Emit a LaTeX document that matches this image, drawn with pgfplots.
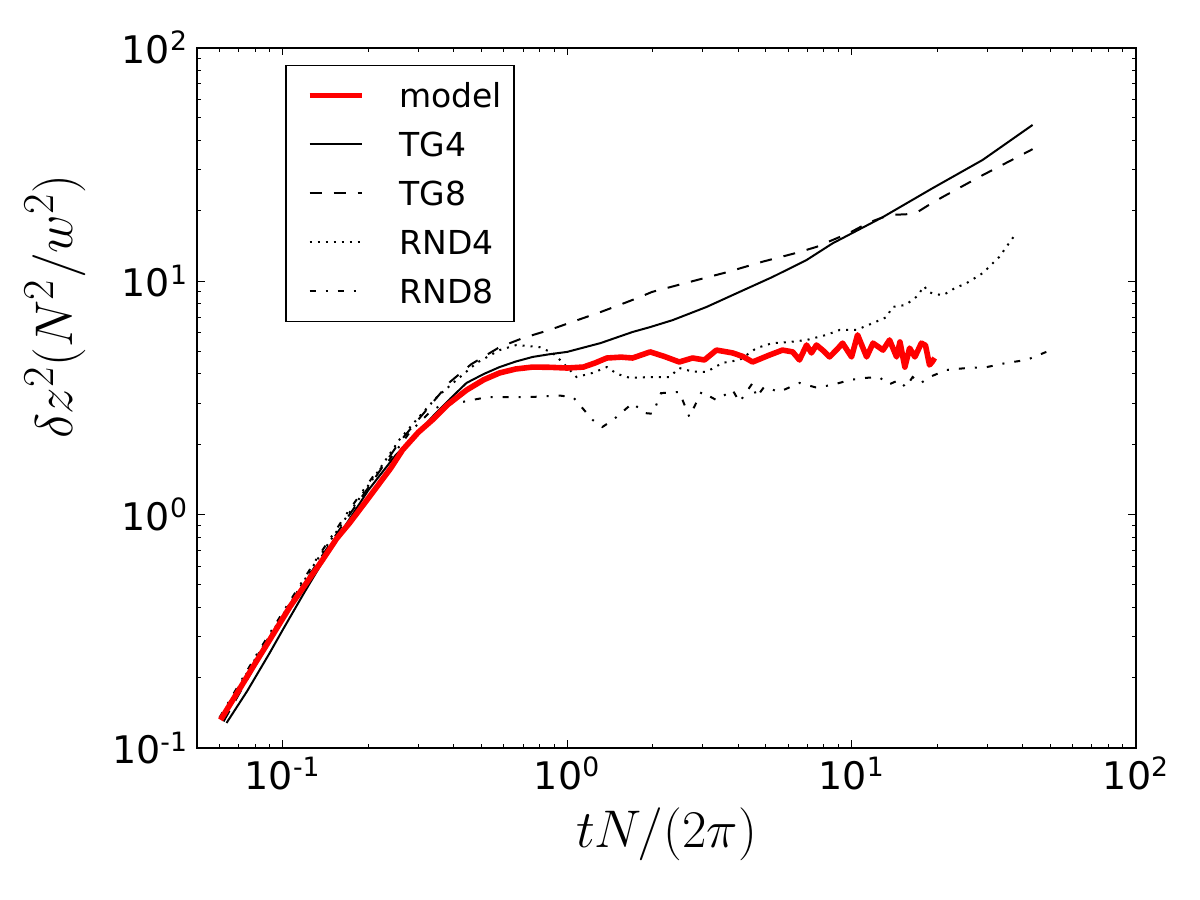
\documentclass[border=0pt]{standalone}
\usepackage[no-math]{fontspec}
\usepackage{pgfplots}
\pgfplotsset{compat=1.18}
\newfontfamily\dejavu{DejaVu Sans}
\newcommand{\labelfont}{\fontsize{24.88}{30}\selectfont}

% model curve, read once and drawn on top of the simulation curves
\pgfplotstableread{
x y
0.0605 0.132
0.07 0.176
0.08 0.23
0.09 0.29
0.106 0.402
0.12 0.50
0.138 0.638
0.155 0.79
0.172 0.92
0.19 1.08
0.214 1.31
0.24 1.58
0.264 1.89
0.3 2.25
0.336 2.54
0.38 2.95
0.443 3.41
0.51 3.78
0.579 4.04
0.66 4.20
0.757 4.28
0.87 4.27
1.0 4.24
1.14 4.28
1.25 4.45
1.38 4.68
1.55 4.72
1.70 4.68
1.96 4.97
2.2 4.75
2.48 4.50
2.76 4.68
3.04 4.59
3.35 5.06
3.82 4.92
4.15 4.75
4.49 4.50
5.15 4.82
5.72 5.06
6.21 4.97
6.56 4.59
6.95 5.32
7.23 4.92
7.53 5.32
8.0 5.0
8.37 4.73
8.9 5.1
9.30 5.42
10.0 4.73
10.5 5.88
11.3 4.73
11.9 5.42
12.9 5.06
13.6 5.59
14.4 4.73
14.8 5.48
15.4 4.28
16.0 5.16
16.7 4.73
17.6 5.42
18.2 5.3
18.8 4.37
19.2 4.5
19.6 4.68
}\modeldata

\pgfplotstableread{
x y
0.0635 0.128
0.075 0.175
0.09 0.255
0.1 0.32
0.12 0.47
0.15 0.74
0.2 1.27
0.25 1.80
0.3 2.25
0.336 2.62
0.39 3.15
0.443 3.66
0.51 4.0
0.579 4.28
0.66 4.52
0.757 4.73
0.87 4.86
1.0 4.97
1.31 5.42
1.70 6.05
1.96 6.35
2.35 6.80
3.09 7.74
4.04 8.98
5.27 10.4
6.95 12.3
8.58 14.5
12.9 18.8
19.3 25.0
28.9 33.0
43.3 46.6
}\tgfour

\pgfplotstableread{
x y
0.062 0.13
0.08 0.225
0.1 0.36
0.13 0.60
0.17 0.98
0.21 1.42
0.258 2.05
0.3 2.55
0.387 3.69
0.46 4.40
0.579 5.21
0.7 5.70
0.867 6.17
1.05 6.70
1.31 7.36
1.55 7.95
1.80 8.53
1.99 8.98
2.70 9.91
3.64 10.9
4.87 12.1
6.41 13.2
7.53 14.0
9.85 16.1
11.5 17.8
13.6 19.2
15.5 19.3
16.9 19.6
18.5 21.0
20.9 22.9
28.9 28.4
43.3 36.7
}\tgeight

\pgfplotstableread{
x y
0.061 0.137
0.08 0.24
0.1 0.37
0.13 0.62
0.17 1.0
0.21 1.45
0.258 2.1
0.3 2.6
0.35 3.2
0.409 3.77
0.481 4.46
0.579 5.06
0.664 5.32
0.80 5.21
0.889 4.92
0.945 4.59
1.08 3.88
1.23 4.04
1.38 4.28
1.50 4.0
1.66 3.85
1.96 3.88
2.29 3.88
2.48 4.24
2.75 4.1
3.09 4.08
3.52 4.46
4.04 4.59
4.63 5.16
5.27 5.42
6.05 5.48
6.95 5.59
8.17 5.88
9.08 6.17
10.4 6.17
11.9 6.61
13.3 7.01
13.9 7.74
15.5 7.9
17.0 8.6
18.0 9.5
18.6 9.0
19.5 8.8
21 8.7
23 9.3
25.4 9.8
28.9 10.8
33.1 12.7
38.0 16.1
}\rndfour

\pgfplotstableread{
x y
0.06 0.135
0.08 0.245
0.1 0.38
0.13 0.63
0.17 1.03
0.21 1.48
0.237 1.71
0.28 2.25
0.33 2.75
0.37 3.0
0.409 3.0
0.521 3.18
0.72 3.18
0.945 3.23
1.05 3.18
1.23 2.54
1.33 2.37
1.45 2.54
1.70 3.0
1.87 2.72
2.0 2.7
2.14 3.31
2.48 3.35
2.69 2.62
2.97 3.35
3.35 3.09
3.82 3.41
4.04 3.03
4.49 3.66
4.63 3.18
4.93 3.52
5.57 3.35
6.56 3.66
7.5 3.5
8.58 3.59
9.85 3.77
11.3 3.85
12.5 3.88
13.5 3.6
14.7 3.77
15.5 3.5
16.4 3.88
17.5 3.65
18.8 3.88
21.6 4.16
25.4 4.24
29.9 4.28
35.1 4.46
41.2 4.59
48.4 4.97
}\rndeight

\begin{document}
\begin{tikzpicture}
\begin{axis}[
  name=ax,
  xmode=log, ymode=log,
  scale only axis,
  width=469.5pt, height=350.25pt,
  xmin=0.05, xmax=100, ymin=0.1, ymax=100,
  axis line style={line width=1pt},
  tick align=inside,
  tick pos=both,
  major tick length=4pt,
  minor tick length=2pt,
  every tick/.style={black, line width=0.5pt},
  xtick={0.1,1,10,100},
  xticklabels={10\textsuperscript{-1},10\textsuperscript{0},10\textsuperscript{1},10\textsuperscript{2}},
  minor xtick={0.06,0.07,0.08,0.09,0.2,0.3,0.4,0.5,0.6,0.7,0.8,0.9,2,3,4,5,6,7,8,9,20,30,40,50,60,70,80,90},
  ytick={0.1,1,10,100},
  yticklabels={10\textsuperscript{-1},10\textsuperscript{0},10\textsuperscript{1},10\textsuperscript{2}},
  minor ytick={0.2,0.3,0.4,0.5,0.6,0.7,0.8,0.9,2,3,4,5,6,7,8,9,20,30,40,50,60,70,80,90},
  ticklabel style={font=\dejavu\fontsize{19}{22}\selectfont},
  xticklabel style={yshift=-1pt},
  yticklabel style={xshift=-1pt},
  xlabel={\scalebox{1.065}{$tN/(2\pi)$}},
  ylabel={\scalebox{1.065}{$\delta z^2(N^2/w^2)$}},
  xlabel style={at={(axis description cs:0.5,-0.1235)}, anchor=center, font=\labelfont},
  ylabel style={at={(axis description cs:-0.151,0.63)}, anchor=center, rotate=0, font=\labelfont},
  legend style={
    at={(axis description cs:0.0937,0.9757)}, anchor=north west,
    draw=black, line width=0.8pt,
    inner xsep=6pt, inner ysep=9pt,
    row sep=12.5pt, column sep=17.5pt,
    nodes={inner sep=0pt, text height=12pt, text depth=0pt},
    font=\dejavu\fontsize{16.5}{19}\selectfont,
  },
  legend cell align=left,
  legend image code/.code={
    \path (0pt,0pt);
    \draw[#1] (4.5pt,0pt) -- (30.5pt,0pt);
  },
]
\addlegendimage{red, line width=2.8pt}
\addlegendentry{model}

\addplot[black, line width=1pt, line join=round] table {\tgfour};
\addlegendentry{TG4}
\addplot[black, line width=1pt, dash pattern=on 6pt off 6pt] table {\tgeight};
\addlegendentry{TG8}
\addplot[black, line width=1pt, dash pattern=on 1pt off 3pt] table {\rndfour};
\addlegendentry{RND4}
\addplot[black, line width=1pt, dash pattern=on 3pt off 5pt on 1pt off 5pt] table {\rndeight};
\addlegendentry{RND8}

\addplot[red, line width=2.8pt, line join=round, forget plot] table {\modeldata};
\end{axis}
\pgfresetboundingbox
\path (ax.south west) ++(-98.5pt,-76pt) rectangle ++(600pt,450pt);
\end{tikzpicture}
\end{document}
